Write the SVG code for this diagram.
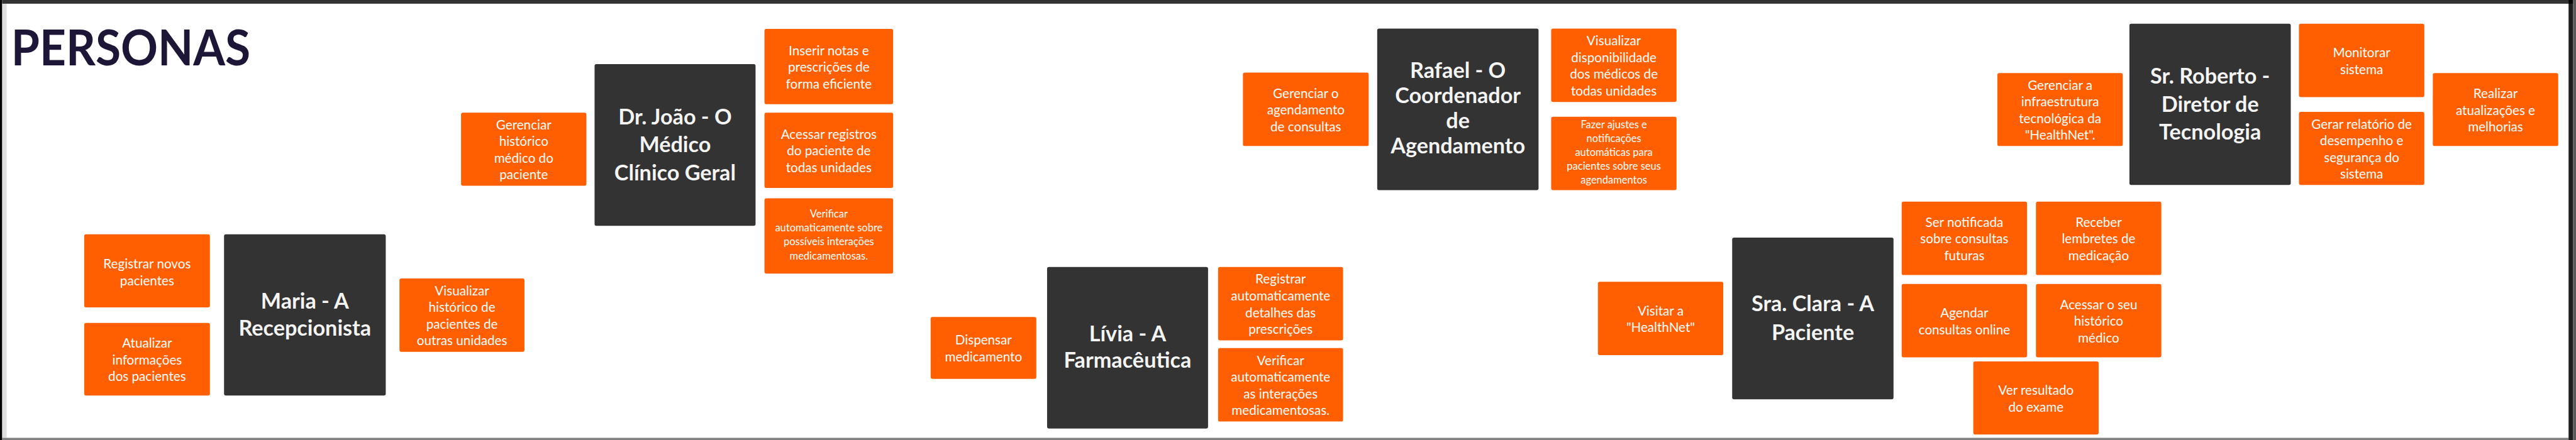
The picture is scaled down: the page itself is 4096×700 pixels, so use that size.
<svg xmlns="http://www.w3.org/2000/svg" width="4096" height="700" viewBox="0 0 4096 700">
<style>
.o{fill:#ff5f00}
.d{fill:#333333}
.t{font-family:Lato,"Open Sans","Liberation Sans",sans-serif;font-weight:400;font-size:35px;fill:#ffffff;text-anchor:middle}
.s{font-family:Lato,"Open Sans","Liberation Sans",sans-serif;font-weight:400;font-size:28px;fill:#ffffff;text-anchor:middle}
.b{font-family:Lato,"Open Sans","Liberation Sans",sans-serif;font-weight:700;font-size:58px;fill:#f4f4f4;text-anchor:middle}
.h{font-family:Lato,"Open Sans","Liberation Sans",sans-serif;font-weight:700;font-size:133px;fill:#1d1636}
</style>
<rect width="4096" height="700" fill="#ffffff"/>
<g transform="scale(0.589777)">
<g id="frame">
<rect x="0" y="0" width="6" height="1187" fill="#000000"/>
<rect x="6" y="10" width="12" height="1171" fill="#dedede"/>
<rect x="6" y="0" width="6919" height="10" fill="#333333"/>
<rect x="6" y="1181" width="6919" height="6" fill="#808080"/>
<rect x="6925" y="0" width="12" height="1187" fill="#1e1e1e"/>
<rect x="6925" y="0" width="12" height="10" fill="#000000"/>
<rect x="6937" y="0" width="8" height="1187" fill="#5a5a5a"/>
</g>
<g id="title">
<text class="h" x="30" y="177" textLength="645" lengthAdjust="spacingAndGlyphs">PERSONAS</text>
</g>

<g id="maria">
<rect class="d" x="604" y="632" width="436" height="435" rx="5"/>
<text class="b" x="822" y="833">Maria - A</text>
<text class="b" x="822" y="905">Recepcionista</text>
</g>
<g id="registrar-novos">
<rect class="o" x="227" y="632" width="339" height="197" rx="5"/>
<text class="t" x="396.5" y="724">Registrar novos</text>
<text class="t" x="396.5" y="769">pacientes</text>
</g>
<g id="atualizar">
<rect class="o" x="227" y="871" width="339" height="196" rx="5"/>
<text class="t" x="396.5" y="938">Atualizar</text>
<text class="t" x="396.5" y="983">informações</text>
<text class="t" x="396.5" y="1028">dos pacientes</text>
</g>
<g id="visualizar-historico">
<rect class="o" x="1077" y="751" width="337" height="198" rx="5"/>
<text class="t" x="1245.5" y="796.5">Visualizar</text>
<text class="t" x="1245.5" y="841.5">histórico de</text>
<text class="t" x="1245.5" y="886.5">pacientes de</text>
<text class="t" x="1245.5" y="931.5">outras unidades</text>
</g>
<g id="gerenciar-historico">
<rect class="o" x="1243" y="304" width="338" height="197" rx="5"/>
<text class="t" x="1412" y="349">Gerenciar</text>
<text class="t" x="1412" y="394">histórico</text>
<text class="t" x="1412" y="439">médico do</text>
<text class="t" x="1412" y="484">paciente</text>
</g>
<g id="joao">
<rect class="d" x="1603" y="173" width="434" height="436" rx="5"/>
<text class="b" x="1820" y="335">Dr. João - O</text>
<text class="b" x="1820" y="411">Médico</text>
<text class="b" x="1820" y="487">Clínico Geral</text>
</g>
<g id="inserir-notas">
<rect class="o" x="2061" y="78" width="347" height="203" rx="5"/>
<text class="t" x="2234.5" y="148.5">Inserir notas e</text>
<text class="t" x="2234.5" y="193.5">prescrições de</text>
<text class="t" x="2234.5" y="238.5">forma eficiente</text>
</g>
<g id="acessar-registros">
<rect class="o" x="2061" y="304" width="347" height="203" rx="5"/>
<text class="t" x="2234.5" y="374.5">Acessar registros</text>
<text class="t" x="2234.5" y="419.5">do paciente de</text>
<text class="t" x="2234.5" y="464.5">todas unidades</text>
</g>
<g id="verificar-interacoes">
<rect class="o" x="2061" y="535" width="347" height="203" rx="5"/>
<text class="s" x="2234.5" y="587">Verificar</text>
<text class="s" x="2234.5" y="624.5">automaticamente sobre</text>
<text class="s" x="2234.5" y="662">possíveis interações</text>
<text class="s" x="2234.5" y="699.5">medicamentosas.</text>
</g>
<g id="dispensar">
<rect class="o" x="2509" y="855" width="285" height="167" rx="5"/>
<text class="t" x="2651.5" y="930">Dispensar</text>
<text class="t" x="2651.5" y="975">medicamento</text>
</g>
<g id="livia">
<rect class="d" x="2823" y="720" width="434" height="436" rx="5"/>
<text class="b" x="3040" y="921">Lívia - A</text>
<text class="b" x="3040" y="992">Farmacêutica</text>
</g>
<g id="registrar-auto">
<rect class="o" x="3284" y="720" width="337" height="198" rx="5"/>
<text class="t" x="3452.5" y="765.5">Registrar</text>
<text class="t" x="3452.5" y="810.5">automaticamente</text>
<text class="t" x="3452.5" y="855.5">detalhes das</text>
<text class="t" x="3452.5" y="900.5">prescrições</text>
</g>
<g id="verificar-auto">
<rect class="o" x="3284" y="939" width="337" height="198" rx="5"/>
<text class="t" x="3452.5" y="984.5">Verificar</text>
<text class="t" x="3452.5" y="1029.5">automaticamente</text>
<text class="t" x="3452.5" y="1074.5">as interações</text>
<text class="t" x="3452.5" y="1119.5">medicamentosas.</text>
</g>
<g id="gerenciar-agendamento">
<rect class="o" x="3351" y="196" width="339" height="198" rx="5"/>
<text class="t" x="3520.5" y="264">Gerenciar o</text>
<text class="t" x="3520.5" y="309">agendamento</text>
<text class="t" x="3520.5" y="354">de consultas</text>
</g>
<g id="rafael">
<rect class="d" x="3713" y="77" width="435" height="436" rx="5"/>
<text class="b" x="3930.5" y="211">Rafael - O</text>
<text class="b" x="3930.5" y="278.5">Coordenador</text>
<text class="b" x="3930.5" y="346">de</text>
<text class="b" x="3930.5" y="413.5">Agendamento</text>
</g>
<g id="visualizar-disponibilidade">
<rect class="o" x="4182" y="77" width="338" height="198" rx="5"/>
<text class="t" x="4351" y="122.5">Visualizar</text>
<text class="t" x="4351" y="167.5">disponibilidade</text>
<text class="t" x="4351" y="212.5">dos médicos de</text>
<text class="t" x="4351" y="257.5">todas unidades</text>
</g>
<g id="fazer-ajustes">
<rect class="o" x="4182" y="315" width="338" height="198" rx="5"/>
<text class="s" x="4351" y="346">Fazer ajustes e</text>
<text class="s" x="4351" y="383.4">notificações</text>
<text class="s" x="4351" y="420.8">automáticas para</text>
<text class="s" x="4351" y="458.2">pacientes sobre seus</text>
<text class="s" x="4351" y="495.6">agendamentos</text>
</g>
<g id="visitar">
<rect class="o" x="4308" y="760" width="338" height="198" rx="5"/>
<text class="t" x="4477" y="850.5">Visitar a</text>
<text class="t" x="4477" y="895.5">"HealthNet"</text>
</g>
<g id="clara">
<rect class="d" x="4670" y="641" width="435" height="436" rx="5"/>
<text class="b" x="4887.5" y="840">Sra. Clara - A</text>
<text class="b" x="4887.5" y="917.5">Paciente</text>
</g>
<g id="ser-notificada">
<rect class="o" x="5127" y="544" width="338" height="198" rx="5"/>
<text class="t" x="5296" y="612">Ser notificada</text>
<text class="t" x="5296" y="657">sobre consultas</text>
<text class="t" x="5296" y="702">futuras</text>
</g>
<g id="receber-lembretes">
<rect class="o" x="5489" y="544" width="338" height="198" rx="5"/>
<text class="t" x="5658" y="612">Receber</text>
<text class="t" x="5658" y="657">lembretes de</text>
<text class="t" x="5658" y="702">medicação</text>
</g>
<g id="agendar">
<rect class="o" x="5127" y="766" width="338" height="198" rx="5"/>
<text class="t" x="5296" y="856.5">Agendar</text>
<text class="t" x="5296" y="901.5">consultas online</text>
</g>
<g id="acessar-historico">
<rect class="o" x="5489" y="766" width="338" height="198" rx="5"/>
<text class="t" x="5658" y="834">Acessar o seu</text>
<text class="t" x="5658" y="879">histórico</text>
<text class="t" x="5658" y="924">médico</text>
</g>
<g id="ver-resultado">
<rect class="o" x="5320" y="975" width="338" height="197" rx="5"/>
<text class="t" x="5489" y="1065">Ver resultado</text>
<text class="t" x="5489" y="1110">do exame</text>
</g>
<g id="gerenciar-infra">
<rect class="o" x="5385" y="197" width="338" height="197" rx="5"/>
<text class="t" x="5554" y="242">Gerenciar a</text>
<text class="t" x="5554" y="287">infraestrutura</text>
<text class="t" x="5554" y="332">tecnológica da</text>
<text class="t" x="5554" y="377">"HealthNet".</text>
</g>
<g id="roberto">
<rect class="d" x="5741" y="64" width="435" height="435" rx="5"/>
<text class="b" x="5958.5" y="225">Sr. Roberto -</text>
<text class="b" x="5958.5" y="301">Diretor de</text>
<text class="b" x="5958.5" y="377">Tecnologia</text>
</g>
<g id="monitorar">
<rect class="o" x="6198" y="64" width="338" height="198" rx="5"/>
<text class="t" x="6367" y="154.5">Monitorar</text>
<text class="t" x="6367" y="199.5">sistema</text>
</g>
<g id="gerar-relatorio">
<rect class="o" x="6198" y="302" width="338" height="197" rx="5"/>
<text class="t" x="6367" y="347">Gerar relatório de</text>
<text class="t" x="6367" y="392">desempenho e</text>
<text class="t" x="6367" y="437">segurança do</text>
<text class="t" x="6367" y="482">sistema</text>
</g>
<g id="realizar">
<rect class="o" x="6559" y="197" width="338" height="197" rx="5"/>
<text class="t" x="6728" y="264.5">Realizar</text>
<text class="t" x="6728" y="309.5">atualizações e</text>
<text class="t" x="6728" y="354.5">melhorias</text>
</g>
</g>
</svg>
